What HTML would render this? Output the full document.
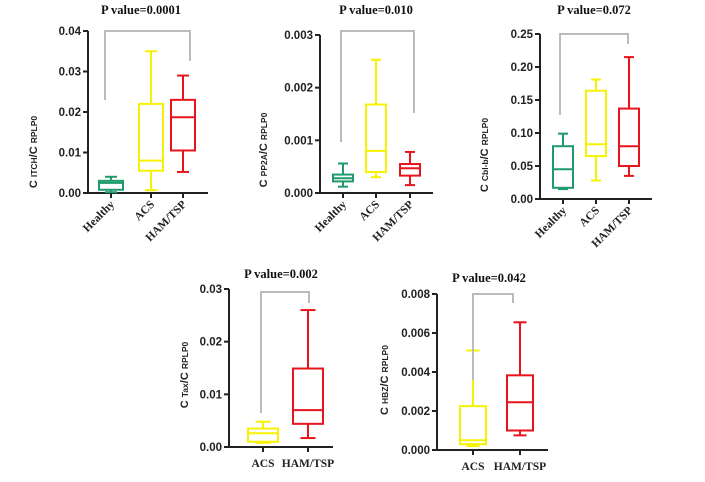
<!DOCTYPE html>
<html><head><meta charset="utf-8"><style>
body{margin:0;background:#fff;}
svg{display:block;}
.tk{font-family:"Liberation Sans",sans-serif;font-weight:bold;font-size:11.5px;fill:#222;}
.cat{font-family:"Liberation Serif",serif;font-weight:bold;font-size:11.5px;fill:#222;}
.ttl{font-family:"Liberation Serif",serif;font-weight:bold;font-size:12.5px;fill:#111;}
.yl{font-family:"Liberation Sans",sans-serif;font-weight:bold;font-size:11px;fill:#222;}
</style></head><body>
<svg id="fig" width="705" height="482"></svg>
<script>
// Panel 1: ITCH
const p1Cats = ["Healthy","ACS","HAM/TSP"];
const p1Min = [0.0002,0.0007,0.0052];
const p1Q1 = [0.0008,0.0055,0.0105];
const p1Med = [0.0025,0.008,0.0187];
const p1Q3 = [0.003,0.022,0.023];
const p1Max = [0.004,0.035,0.029];
const p1Ticks = ["0.00","0.01","0.02","0.03","0.04"];
// Panel 2: PP2A
const p2Cats = ["Healthy","ACS","HAM/TSP"];
const p2Min = [0.00012,0.0003,0.00015];
const p2Q1 = [0.00022,0.0004,0.00033];
const p2Med = [0.00028,0.0008,0.00047];
const p2Q3 = [0.00035,0.00168,0.00055];
const p2Max = [0.00056,0.00253,0.00078];
const p2Ticks = ["0.000","0.001","0.002","0.003"];
// Panel 3: Cbl-b
const p3Cats = ["Healthy","ACS","HAM/TSP"];
const p3Min = [0.015,0.028,0.035];
const p3Q1 = [0.017,0.065,0.05];
const p3Med = [0.045,0.083,0.08];
const p3Q3 = [0.08,0.164,0.137];
const p3Max = [0.099,0.181,0.215];
const p3Ticks = ["0.00","0.05","0.10","0.15","0.20","0.25"];
// Panel 4: Tax
const p4Cats = ["ACS","HAM/TSP"];
const p4Min = [0.0008,0.0017];
const p4Q1 = [0.001,0.0044];
const p4Med = [0.0026,0.007];
const p4Q3 = [0.0035,0.0149];
const p4Max = [0.0048,0.026];
const p4Ticks = ["0.00","0.01","0.02","0.03"];
// Panel 5: HBZ
const p5Cats = ["ACS","HAM/TSP"];
const p5Min = [0.0002,0.00075];
const p5Q1 = [0.0003,0.001];
const p5Med = [0.0005,0.00245];
const p5Q3 = [0.00225,0.00383];
const p5Max = [0.0051,0.00655];
const p5Ticks = ["0.000","0.002","0.004","0.006","0.008"];

const NS="http://www.w3.org/2000/svg";
const svg=document.getElementById('fig');
const COL={"Healthy":"#1f9a6c","ACS":"#f7f200","HAM/TSP":"#e8141c"};
function mk(tag,attrs,parent){const e=document.createElementNS(NS,tag);for(const k in attrs)e.setAttribute(k,attrs[k]);(parent||svg).appendChild(e);return e;}

function panel(cfg,cats,mn,q1,md,q3,mx,ticks){
  const g=mk('g',{});
  
  
  const ymax=parseFloat(ticks[ticks.length-1]);
  const y=v=>cfg.y0-(v/ymax)*(cfg.y0-cfg.yTop);
  const ax=mk('path',{d:`M${cfg.ax},${cfg.yTop} V${cfg.y0} H${cfg.axEnd}`,stroke:'#222','stroke-width':2,fill:'none'},g);
  
  
  ticks.forEach(t=>{
    const yy=y(parseFloat(t));
    mk('line',{x1:cfg.ax-5,x2:cfg.ax,y1:yy,y2:yy,stroke:'#222','stroke-width':2},g);
    const tx=mk('text',{x:cfg.ax-7,y:yy+4,'text-anchor':'end',class:'tk'},g);
    tx.textContent=t;
    
    
  });
  cats.forEach((c,i)=>{
    const cx=cfg.xs[i],w=cfg.bw,col=COL[c];
    mk('line',{x1:cx,x2:cx,y1:cfg.y0,y2:cfg.y0+5,stroke:'#222','stroke-width':2},g);
    const bg=mk('g',{stroke:col,'stroke-width':2,fill:'none'},g);
    
    
    mk('line',{x1:cx,x2:cx,y1:y(mx[i]),y2:y(q3[i])},bg);
    mk('line',{x1:cx,x2:cx,y1:y(q1[i]),y2:y(mn[i])},bg);
    mk('line',{x1:cx-w/4,x2:cx+w/4,y1:y(mx[i]),y2:y(mx[i])},bg);
    mk('line',{x1:cx-w/4,x2:cx+w/4,y1:y(mn[i]),y2:y(mn[i])},bg);
    mk('rect',{x:cx-w/2,y:y(q3[i]),width:w,height:y(q1[i])-y(q3[i])},bg);
    mk('line',{x1:cx-w/2,x2:cx+w/2,y1:y(md[i]),y2:y(md[i])},bg);
    let tx;
    if(cfg.rot){
      tx=mk('text',{x:cx+4,y:cfg.y0+12,'text-anchor':'end',class:'cat',transform:`rotate(-45 ${cx+4} ${cfg.y0+12})`},g);
    } else {
      tx=mk('text',{x:cx,y:cfg.y0+20,'text-anchor':'middle',class:'cat'},g);
    }
    tx.textContent=c;
    
    
  });
  const b=cfg.br;
  const br=mk('path',{d:`M${b[0]},${b[2]} V${b[4]} H${b[1]} V${b[3]}`,stroke:'#bbb','stroke-width':2,fill:'none'},g);
  
  
  const tt=mk('text',{x:cfg.tx,y:cfg.ty,'text-anchor':'middle',class:'ttl'},g);
  tt.textContent=cfg.title;
  
  
  const yl=mk('text',{x:cfg.lx,y:cfg.ly,'text-anchor':'middle',class:'yl',transform:`rotate(-90 ${cfg.lx} ${cfg.ly})`},g);
  yl.innerHTML=`C <tspan font-size="8.5">${cfg.gene}</tspan>/C <tspan font-size="8.5">RPLP0</tspan>`;
  
  
}

panel({name:'itch-panel',ax:88,axEnd:208,yTop:31,y0:193,xs:[111,151,183],bw:24,rot:true,
  br:[105,190,100,61,31],title:'P value=0.0001',tx:141,ty:14,lx:37,ly:152,gene:'ITCH'},
  p1Cats,p1Min,p1Q1,p1Med,p1Q3,p1Max,p1Ticks);
panel({name:'pp2a-panel',ax:320,axEnd:433,yTop:35,y0:193,xs:[343,376,410],bw:20,rot:true,
  br:[341,414,142,113,31],title:'P value=0.010',tx:376,ty:14,lx:267,ly:150,gene:'PP2A'},
  p2Cats,p2Min,p2Q1,p2Med,p2Q3,p2Max,p2Ticks);
panel({name:'cblb-panel',ax:540,axEnd:652,yTop:34,y0:199,xs:[563,596,629],bw:20,rot:true,
  br:[560,628,115,44,34],title:'P value=0.072',tx:594,ty:14,lx:488,ly:155,gene:'Cbl-b'},
  p3Cats,p3Min,p3Q1,p3Med,p3Q3,p3Max,p3Ticks);
panel({name:'tax-panel',ax:229,axEnd:333,yTop:289,y0:447,xs:[263,308],bw:30,rot:false,
  br:[261,309,413,303,292],title:'P value=0.002',tx:281,ty:278,lx:188,ly:375,gene:'Tax'},
  p4Cats,p4Min,p4Q1,p4Med,p4Q3,p4Max,p4Ticks);
panel({name:'hbz-panel',ax:437,axEnd:548,yTop:294,y0:450,xs:[473,520],bw:26,rot:false,
  br:[473,513,380,303,294],title:'P value=0.042',tx:489,ty:282,lx:388,ly:380,gene:'HBZ'},
  p5Cats,p5Min,p5Q1,p5Med,p5Q3,p5Max,p5Ticks);
</script>
</body></html>
